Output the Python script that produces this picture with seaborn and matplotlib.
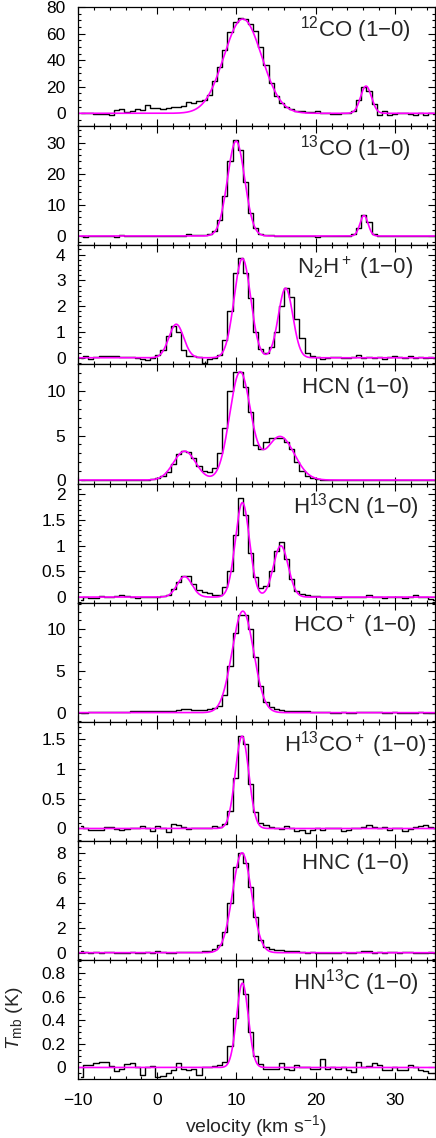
"""
Molecular line spectra (Tmb vs velocity) with Gaussian fits, nine stacked panels.
"""
import matplotlib

matplotlib.use("Agg")
import matplotlib.pyplot as plt
import numpy as np
import pandas as pd
import seaborn as sns
from matplotlib.ticker import FuncFormatter, MultipleLocator


# channel grid of the spectra (km/s)
V_START = -10.0
CHANNEL_WIDTH = 0.65
N_CHANNELS = 70

SPECIES = ["12CO", "13CO", "N2H+", "HCN", "H13CN", "HCO+", "H13CO+", "HNC", "HN13C"]
LABELS = [
    r"$^{12}$CO (1−0)",
    r"$^{13}$CO (1−0)",
    r"N$_2$H$^+$ (1−0)",
    "HCN (1−0)",
    r"H$^{13}$CN (1−0)",
    r"HCO$^+$ (1−0)",
    r"H$^{13}$CO$^+$ (1−0)",
    "HNC (1−0)",
    r"HN$^{13}$C (1−0)",
]

CO12 = [
    0.5, 0.3, 0.0, -0.2, -0.5, -0.5, -1.2, 2.5, 3.2, 1.0,
    1.5, 3.0, 2.5, 6.0, 4.0, 4.0, 3.5, 4.0, 4.5, 5.0,
    5.5, 8.5, 7.5, 9.0, 10.0, 14.0, 24.0, 35.0, 48.0, 61.0,
    69.0, 72.0, 71.0, 67.0, 62.0, 50.0, 36.0, 23.0, 13.0, 7.5,
    4.5, 3.0, 2.0, 1.5, 1.0, 1.0, 1.5, 0.5, 0.0, -0.3,
    -0.5, 0.0, 0.5, 2.0, 10.0, 20.0, 17.0, 7.0, -1.0, 1.5,
    -1.0, -0.8, 0.0, 0.5, -0.5, -1.5, 0.5, -1.0, 0.0, -0.5,
]
CO13 = [
    0.05, -0.2, -0.1, 0.0, 0.05, 0.0, -0.1, -0.35, 0.3, 0.0,
    0.1, -0.1, 0.15, 0.0, -0.1, 0.0, 0.05, -0.05, 0.0, -0.05,
    0.0, 0.6, 0.3, 0.4, 0.3, 0.8, 1.5, 5.0, 13.0, 24.0,
    30.8, 27.5, 17.5, 7.5, 2.5, 0.7, 0.3, 0.4, 0.1, 0.0,
    -0.1, 0.05, 0.0, 0.1, 0.0, -0.1, -0.2, -0.1, 0.0, 0.05,
    -0.1, 0.0, 0.1, 0.5, 2.5, 6.6, 4.5, 0.5, -0.1, 0.0,
    -0.1, 0.1, -0.05, 0.0, 0.0, -0.15, 0.0, 0.05, -0.05, 0.0,
]
N2H = [
    0.0, 0.05, -0.04, 0.03, 0.05, 0.05, 0.08, 0.07, 0.04, 0.02,
    0.02, 0.0, -0.03, -0.1, -0.02, 0.1, 0.3, 0.85, 1.25, 1.0,
    0.3, 0.05, 0.05, 0.04, -0.2, -0.05, 0.0, 0.1, 0.7, 1.8,
    3.3, 3.85, 3.3, 2.3, 1.0, 0.35, 0.2, 0.4, 1.0, 2.0,
    2.7, 2.35, 1.5, 0.75, 0.2, 0.05, 0.02, -0.03, 0.0, 0.03,
    0.02, 0.0, -0.02, 0.02, 0.12, 0.0, 0.02, 0.0, 0.03, -0.05,
    0.03, 0.05, 0.03, -0.02, 0.08, 0.0, 0.02, 0.0, 0.03, 0.0,
]
HCN = [
    0.02, 0.0, 0.03, 0.0, 0.02, 0.0, 0.0, 0.03, 0.02, 0.0,
    0.04, 0.02, 0.05, 0.03, 0.08, 0.2, 0.45, 0.95, 1.8, 2.9,
    3.3, 3.2, 2.5, 1.6, 1.0, 0.9, 1.4, 3.0, 5.8, 10.0,
    12.2, 12.2, 10.5, 7.7, 3.9, 3.5, 4.3, 4.7, 4.7, 4.7,
    4.3, 3.5, 2.0, 1.0, 0.5, 0.2, 0.1, 0.05, 0.03, 0.02,
    0.0, 0.02, 0.0, 0.03, 0.05, 0.02, 0.0, 0.02, 0.05, 0.03,
    0.0, 0.02, 0.0, 0.03, 0.02, 0.0, 0.02, 0.0, 0.02, 0.0,
]
H13CN = [
    -0.05, 0.0, -0.01, -0.01, 0.03, 0.0, 0.0, 0.02, 0.04, 0.02,
    0.0, -0.01, 0.0, 0.01, 0.0, 0.0, 0.03, 0.05, 0.15, 0.3,
    0.42, 0.42, 0.25, 0.14, 0.1, 0.07, 0.05, 0.05, 0.2, 0.5,
    1.2, 1.93, 1.6, 0.85, 0.4, 0.18, 0.22, 0.5, 0.9, 1.07,
    0.75, 0.35, 0.12, 0.06, 0.05, 0.03, 0.02, 0.0, 0.01, 0.0,
    -0.01, 0.0, 0.0, 0.01, 0.0, 0.0, 0.05, 0.0, 0.01, -0.01,
    0.0, 0.0, 0.01, -0.01, 0.0, 0.04, 0.01, 0.0, -0.03, -0.05,
]
HCOP = [
    0.0, 0.0, 0.05, 0.05, 0.05, 0.1, 0.1, 0.12, 0.1, 0.1,
    0.15, 0.15, 0.15, 0.2, 0.15, 0.15, 0.2, 0.25, 0.25, 0.35,
    0.45, 0.4, 0.35, 0.35, 0.35, 0.4, 0.5, 0.8, 2.1, 5.5,
    9.5, 11.6, 11.6, 10.0, 6.6, 3.2, 1.3, 0.7, 0.4, 0.3,
    0.25, 0.2, 0.2, 0.15, 0.15, 0.1, 0.1, 0.05, 0.05, 0.0,
    0.0, 0.02, 0.0, 0.0, 0.05, 0.1, 0.08, 0.05, 0.02, 0.0,
    0.0, 0.02, 0.0, -0.02, 0.0, 0.0, 0.02, 0.0, -0.03, 0.0,
]
H13COP = [
    0.05, 0.0, -0.02, -0.02, -0.02, 0.03, 0.03, -0.01, -0.02, -0.01,
    0.0, 0.0, 0.05, 0.0, -0.04, 0.04, 0.0, -0.06, 0.08, 0.06,
    0.03, -0.01, 0.0, 0.0, 0.0, 0.0, 0.05, 0.02, 0.08, 0.3,
    0.85, 1.55, 1.42, 0.75, 0.28, 0.1, 0.06, 0.03, 0.0, -0.01,
    0.04, 0.0, -0.05, -0.02, -0.08, -0.03, 0.0, -0.02, 0.0, 0.0,
    0.0, -0.04, -0.03, 0.0, 0.0, 0.03, 0.06, 0.02, 0.0, 0.02,
    -0.02, 0.01, 0.0, -0.04, -0.01, 0.02, 0.04, 0.06, 0.03, 0.01,
]
HNC = [
    0.1, 0.05, 0.0, 0.02, 0.0, 0.08, 0.02, 0.0, -0.02, 0.0,
    0.02, 0.0, 0.0, 0.02, 0.0, 0.1, 0.05, 0.0, 0.0, 0.05,
    0.05, 0.08, 0.05, 0.05, 0.15, 0.15, 0.3, 0.6, 1.7, 4.0,
    6.9, 8.0, 7.2, 5.3, 2.9, 1.0, 0.45, 0.3, 0.25, 0.2,
    0.15, 0.1, 0.1, 0.05, 0.0, 0.02, 0.0, 0.0, -0.02, 0.0,
    0.0, 0.02, -0.02, 0.0, 0.02, 0.12, 0.1, 0.0, 0.02, 0.0,
    0.08, 0.05, 0.0, 0.02, 0.05, 0.0, -0.05, 0.0, 0.05, 0.0,
]
HN13C = [
    -0.08, 0.025, 0.025, 0.04, 0.05, 0.05, 0.01, -0.03, -0.01, 0.03,
    0.04, 0.0, -0.06, 0.0, 0.01, -0.08, -0.07, -0.05, -0.02, 0.035,
    -0.01, -0.02, -0.01, -0.06, 0.0, 0.0, 0.01, 0.02, 0.05, 0.18,
    0.42, 0.75, 0.62, 0.3, 0.1, 0.03, -0.01, -0.01, -0.01, 0.04,
    -0.01, -0.02, 0.02, 0.0, 0.0, -0.01, -0.01, 0.07, -0.01, 0.0,
    -0.01, 0.0, -0.02, -0.04, 0.05, 0.0, 0.01, 0.035, 0.025, -0.02,
    -0.02, 0.0, -0.02, -0.02, 0.02, 0.0, -0.02, -0.03, -0.05, -0.05,
]

# fitted gaussian components: (peak K, centre km/s, FWHM km/s)
FIT_CO12 = [(71.0, 10.8, 5.6), (20.5, 26.35, 1.6)]
FIT_CO13 = [(30.5, 9.95, 2.55), (6.6, 26.1, 1.2)]
FIT_N2H = [(1.3, 2.4, 2.2), (3.85, 10.75, 2.45), (2.7, 16.2, 2.15)]
FIT_HCN = [(3.25, 3.45, 3.3), (12.1, 10.45, 3.1), (4.9, 15.5, 4.2)]
FIT_H13CN = [(0.4, 3.45, 2.2), (1.84, 10.75, 2.1), (1.0, 15.6, 2.2)]
FIT_HCOP = [(12.1, 10.8, 3.2)]
FIT_H13COP = [(1.55, 10.7, 2.0)]
FIT_HNC = [(8.05, 10.7, 2.8)]
FIT_HN13C = [(0.715, 10.75, 1.75)]

# per-panel axis setup: (ymin, ymax, major step, minor step)
YAXES = [
    (-9.7, 80.0, 20, 5),
    (-3.0, 35.3, 10, 2),
    (-0.26, 4.36, 1, 0.2),
    (-0.4, 13.0, 5, 1),
    (-0.11, 2.21, 0.5, 0.1),
    (-1.1, 13.1, 5, 1),
    (-0.21, 1.79, 0.5, 0.1),
    (-0.6, 9.0, 2, 0.5),
    (-0.1, 0.91, 0.2, 0.05),
]

VALUES = [CO12, CO13, N2H, HCN, H13CN, HCOP, H13COP, HNC, HN13C]
FITS = [FIT_CO12, FIT_CO13, FIT_N2H, FIT_HCN, FIT_H13CN, FIT_HCOP, FIT_H13COP, FIT_HNC, FIT_HN13C]


def gauss_sum(v, comps):
    total = np.zeros_like(v)
    for amp, v0, fwhm in comps:
        total += amp * np.exp(-4.0 * np.log(2.0) * ((v - v0) / fwhm) ** 2)
    return total


velocity = V_START + CHANNEL_WIDTH * (np.arange(N_CHANNELS) + 0.5)
spectra = pd.DataFrame({"velocity": velocity, **dict(zip(SPECIES, VALUES))})
spectra = spectra.melt(id_vars="velocity", var_name="species", value_name="tmb")

v_fine = np.linspace(-10, 35, 1201)
fits = pd.concat(
    [pd.DataFrame({"velocity": v_fine, "species": s, "tmb": gauss_sum(v_fine, c)}) for s, c in zip(SPECIES, FITS)]
)

sns.set_theme(style="ticks", rc={"axes.edgecolor": "black", "axes.linewidth": 0.9})
plt.rcParams["font.family"] = ["Liberation Sans", "DejaVu Sans"]
plt.rcParams["mathtext.fontset"] = "custom"
plt.rcParams["mathtext.rm"] = "Liberation Sans"
plt.rcParams["mathtext.it"] = "Liberation Sans:italic"
plt.rcParams["axes.unicode_minus"] = True

fig, axes = plt.subplots(9, 1, figsize=(4.36, 11.38), dpi=100, sharex=True)
fig.subplots_adjust(left=0.179, right=0.9966, top=0.9938, bottom=0.0516, hspace=0)

for ax, name, label, (ymin, ymax, major, minor) in zip(axes, SPECIES, LABELS, YAXES):
    sns.lineplot(
        data=spectra[spectra.species == name], x="velocity", y="tmb", ax=ax,
        color="black", lw=1.0, drawstyle="steps-mid", estimator=None, sort=False,
    )
    sns.lineplot(
        data=fits[fits.species == name], x="velocity", y="tmb", ax=ax,
        color="#ff00ff", lw=1.2, estimator=None, sort=False,
    )
    ax.set_xlim(-10, 35)
    ax.set_ylim(ymin, ymax)
    ax.yaxis.set_major_locator(MultipleLocator(major))
    ax.yaxis.set_minor_locator(MultipleLocator(minor))
    ax.yaxis.set_major_formatter(FuncFormatter(lambda y, _: f"{y:g}"))
    ax.xaxis.set_major_locator(MultipleLocator(10))
    ax.xaxis.set_minor_locator(MultipleLocator(2))
    ax.tick_params(which="both", direction="in", top=True, right=True, colors="black", width=0.8)
    ax.tick_params(which="major", length=5)
    ax.tick_params(which="minor", length=2.5)
    ax.tick_params(axis="y", labelsize=12.5, pad=9)
    ax.tick_params(axis="x", labelsize=12.5, pad=10)
    ax.set_xlabel("")
    ax.set_ylabel("")
    ax.text(0.778, 0.81, label, transform=ax.transAxes, ha="center", va="center", fontsize=16)

axes[-1].set_xlabel(r"velocity (km s$^{-1}$)", fontsize=14)
axes[-1].xaxis.set_label_coords(0.5, -0.285)
axes[-1].set_ylabel(r"$T_{\rm mb}$ (K)", fontsize=14)
axes[-1].yaxis.set_label_coords(-0.148, 0.514)

fig.savefig("out.png", dpi=100)
